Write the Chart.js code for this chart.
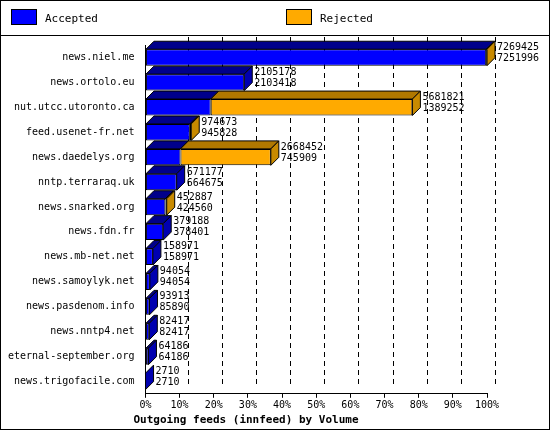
<!DOCTYPE html>
<html><head><meta charset="utf-8">
<script src="https://cdn.jsdelivr.net/npm/chart.js@4/dist/chart.umd.min.js"></script>
<style>
html,body{margin:0;padding:0;background:#fff}
#wrap{position:relative;width:548px;height:428px;border:1px solid #000;font-family:"DejaVu Sans Mono",monospace;font-size:11px}
.lg{position:absolute;top:12px}
.bx{position:absolute;width:24px;height:14px;border:1px solid #000}
#sep{position:absolute;left:0;top:34px;width:548px;border-top:1px solid #000}
</style></head><body>
<div id="wrap">
<div class="lg" style="left:10px"><div class="bx" style="background:#0000ff;top:-4px"></div><span style="position:absolute;left:34px;top:-1px">Accepted</span></div>
<div class="lg" style="left:285px"><div class="bx" style="background:#ffaa00;top:-4px"></div><span style="position:absolute;left:34px;top:-1px">Rejected</span></div>
<div id="sep"></div>
<canvas id="c" width="548" height="428"></canvas>
</div>
<script>
const categories=["news.niel.me","news.ortolo.eu","nut.utcc.utoronto.ca","feed.usenet-fr.net","news.daedelys.org","nntp.terraraq.uk","news.snarked.org","news.fdn.fr","news.mb-net.net","news.samoylyk.net","news.pasdenom.info","news.nntp4.net","eternal-september.org","news.trigofacile.com"];
const offered=[7269425,2105178,5681821,974673,2668452,671177,452887,379188,158971,94054,93913,82417,64186,2710];
const accepted=[7251996,2103418,1389252,945828,745909,664675,424560,378401,158971,94054,85890,82417,64186,2710];
const rejected=offered.map((v,i)=>v-accepted[i]);
const tickLabels=["0%","10%","20%","30%","40%","50%","60%","70%","80%","90%","100%"];
const maxV=Math.max(...offered);
const D=8;
const faces={
 id:'faces',
 afterDatasetsDraw(ch){
  const ctx=ch.ctx, m0=ch.getDatasetMeta(0), m1=ch.getDatasetMeta(1);
  ctx.save();ctx.strokeStyle='#000';ctx.lineWidth=1;
  categories.forEach((c,i)=>{
   const a=m0.data[i], r=m1.data[i];
   const h=a.height, top=a.y-h/2, bot=a.y+h/2;
   const x0=a.base;
   const segs=[[x0,a.x,'#00008b','#0000b0'],[a.x,r.x,'#b07800','#c88a00']];
   let end=a.x, sc='#0000b0';
   segs.forEach(s=>{ if(s[1]-s[0]>0.5){
     ctx.fillStyle=s[2];ctx.beginPath();ctx.moveTo(s[0],top);ctx.lineTo(s[0]+D,top-D);ctx.lineTo(s[1]+D,top-D);ctx.lineTo(s[1],top);ctx.closePath();ctx.fill();ctx.stroke();
     end=s[1];sc=s[3];}});
   ctx.fillStyle=sc;ctx.beginPath();ctx.moveTo(end,top);ctx.lineTo(end+D,top-D);ctx.lineTo(end+D,bot-D);ctx.lineTo(end,bot);ctx.closePath();ctx.fill();ctx.stroke();
   ctx.fillStyle='#000';ctx.font='10px "DejaVu Sans Mono"';ctx.textAlign='left';ctx.textBaseline='middle';
   ctx.fillText(String(offered[i]),end+D+2,a.y-10);
   ctx.fillText(String(accepted[i]),end+D+2,a.y+1);
  });
  ctx.restore();
 }
};
new Chart(document.getElementById('c'),{
 type:'bar',
 data:{labels:categories,datasets:[
  {label:'Accepted',data:accepted,backgroundColor:'#0000ff',borderColor:'#000',borderWidth:1,borderSkipped:false},
  {label:'Rejected',data:rejected,backgroundColor:'#ffaa00',borderColor:'#000',borderWidth:1,borderSkipped:false}]},
 options:{indexAxis:'y',responsive:false,animation:false,
  layout:{padding:{top:44,right:62,left:4,bottom:2}},
  datasets:{bar:{categoryPercentage:0.66,barPercentage:1}},
  plugins:{legend:{display:false},tooltip:{enabled:false},
   title:{display:true,position:'bottom',text:'Outgoing feeds (innfeed) by Volume',color:'#000',font:{family:'DejaVu Sans Mono',size:11,weight:'bold'},padding:{top:0,bottom:0}}},
  scales:{
   x:{stacked:true,min:0,max:maxV,afterBuildTicks(ax){ax.ticks=tickLabels.map((t,i)=>({value:maxV*i/10}));},
    ticks:{callback:(v,i)=>tickLabels[i],color:'#000',font:{family:'DejaVu Sans Mono',size:10},maxRotation:0,padding:2},
    grid:{color:'#000',drawOnChartArea:false,drawTicks:true,tickLength:4},border:{display:true,color:'#000'}},
   y:{stacked:true,ticks:{color:'#000',font:{family:'DejaVu Sans Mono',size:10}},grid:{display:false},border:{color:'#000'}}
  }},
 plugins:[faces,{id:'dash',beforeDatasetsDraw(ch){const x=ch.scales.x,ctx=ch.ctx,a=ch.chartArea;ctx.save();ctx.setLineDash([5,4]);ctx.strokeStyle='#000';for(let i=1;i<=10;i++){const px=Math.round(x.getPixelForValue(maxV*i/10))+0.5+D;ctx.beginPath();ctx.moveTo(px,a.top-D);ctx.lineTo(px,a.bottom-D);ctx.stroke();}ctx.restore();}}]
});
</script></body></html>
